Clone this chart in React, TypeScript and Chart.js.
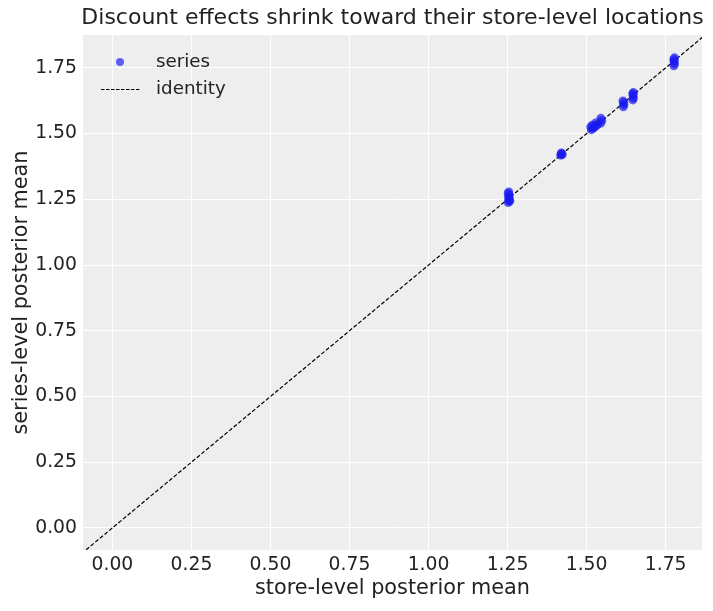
import React, { useEffect, useRef } from "react";
import { Chart, registerables } from "chart.js";

Chart.register(...registerables);

const titleText = "Discount effects shrink toward their store-level locations";
const xLabel = "store-level posterior mean";
const yLabel = "series-level posterior mean";
const xTicks = [0, 0.25, 0.5, 0.75, 1.0, 1.25, 1.5, 1.75];
const seriesX = [
  1.252, 1.254, 1.256, 1.253, 1.255, 1.252, 1.254, 1.257,
  1.418, 1.421, 1.423, 1.42,
  1.515, 1.52, 1.525, 1.518, 1.53, 1.535, 1.528, 1.545, 1.548, 1.545, 1.513,
  1.616, 1.618, 1.617, 1.615,
  1.646, 1.648, 1.647, 1.646, 1.648,
  1.776, 1.778, 1.777, 1.776, 1.778,
];
const seriesY = [
  1.238, 1.245, 1.25, 1.258, 1.265, 1.272, 1.278, 1.243,
  1.418, 1.423, 1.42, 1.426,
  1.515, 1.52, 1.525, 1.532, 1.53, 1.535, 1.54, 1.54, 1.55, 1.558, 1.525,
  1.602, 1.61, 1.618, 1.624,
  1.628, 1.635, 1.645, 1.652, 1.656,
  1.758, 1.766, 1.775, 1.782, 1.788,
];
const identityX = [-0.2, 2.0];

const FONT = "DejaVu Sans";
const TEXT = "#222222";
const POINT = "rgba(25,25,240,0.68)";

const decorPlugin = {
  id: "decor",
  beforeDraw(chart: any) {
    const { ctx, chartArea } = chart;
    ctx.save();
    ctx.fillStyle = "#eeeeee";
    ctx.fillRect(chartArea.left, chartArea.top, chartArea.right - chartArea.left, chartArea.bottom - chartArea.top);
    ctx.restore();
  },
  afterDraw(chart: any) {
    const { ctx, chartArea } = chart;
    ctx.save();
    ctx.fillStyle = TEXT;
    ctx.textBaseline = "middle";
    ctx.font = `22px "${FONT}"`;
    ctx.textAlign = "center";
    ctx.fillText(titleText, (chartArea.left + chartArea.right) / 2, 18);
    ctx.font = `20.8px "${FONT}"`;
    ctx.fillText(xLabel, (chartArea.left + chartArea.right) / 2, 589);
    ctx.save();
    ctx.translate(22, (chartArea.top + chartArea.bottom) / 2);
    ctx.rotate(-Math.PI / 2);
    ctx.fillText(yLabel, 0, 0);
    ctx.restore();
    ctx.textAlign = "left";
    ctx.font = `18.3px "${FONT}"`;
    ctx.fillStyle = POINT;
    ctx.beginPath();
    ctx.arc(120, 62, 4, 0, Math.PI * 2);
    ctx.fill();
    ctx.fillStyle = TEXT;
    ctx.fillText("series", 156, 62);
    ctx.strokeStyle = "#000";
    ctx.lineWidth = 1;
    ctx.setLineDash([3.5, 1.5]);
    ctx.beginPath();
    ctx.moveTo(101, 89.5);
    ctx.lineTo(141, 89.5);
    ctx.stroke();
    ctx.setLineDash([]);
    ctx.fillText("identity", 156, 89);
    ctx.restore();
  },
};

export default function App() {
  const ref = useRef<HTMLCanvasElement>(null);
  useEffect(() => {
    document.body.style.margin = "0";
    const pts = seriesX.map((x, i) => ({ x, y: seriesY[i] }));
    const idPts = identityX.map((v) => ({ x: v, y: v }));
    const chart = new Chart(ref.current!, {
      type: "scatter",
      data: {
        datasets: [
          {
            label: "identity",
            type: "line",
            data: idPts,
            borderColor: "#000",
            borderWidth: 1.2,
            borderDash: [4, 2],
            pointRadius: 0,
            showLine: true,
            fill: false,
            order: 2,
          } as any,
          {
            label: "series",
            data: pts,
            backgroundColor: POINT,
            borderWidth: 0,
            pointRadius: 4.5,
            order: 1,
          },
        ],
      },
      options: {
        animation: false,
        responsive: false,
        layout: { padding: { top: 35, right: 11, left: 0, bottom: 0 } },
        plugins: { legend: { display: false }, tooltip: { enabled: false }, title: { display: false } },
        scales: {
          x: {
            type: "linear",
            min: -0.093,
            max: 1.865,
            afterFit: (s: any) => { s.height = 61; },
            afterBuildTicks: (s: any) => { s.ticks = xTicks.map((v) => ({ value: v })); },
            ticks: {
              color: TEXT,
              font: { family: FONT, size: 18.8 },
              padding: 4,
              maxRotation: 0,
              callback: (v: any) => Number(v).toFixed(2),
            },
            grid: { color: "#ffffff", lineWidth: 1, drawTicks: false },
            border: { display: false },
          },
          y: {
            type: "linear",
            min: -0.084,
            max: 1.875,
            afterFit: (s: any) => { s.width = 83; },
            afterBuildTicks: (s: any) => { s.ticks = xTicks.map((v) => ({ value: v })); },
            ticks: {
              color: TEXT,
              font: { family: FONT, size: 18.8 },
              padding: 6,
              callback: (v: any) => Number(v).toFixed(2),
            },
            grid: { color: "#ffffff", lineWidth: 1, drawTicks: false },
            border: { display: false },
          },
        },
      },
      plugins: [decorPlugin],
    });
    return () => chart.destroy();
  }, []);
  return (
    <div style={{ width: 713, height: 611 }}>
      <canvas ref={ref} width={713} height={611} style={{ display: "block" }} />
    </div>
  );
}
